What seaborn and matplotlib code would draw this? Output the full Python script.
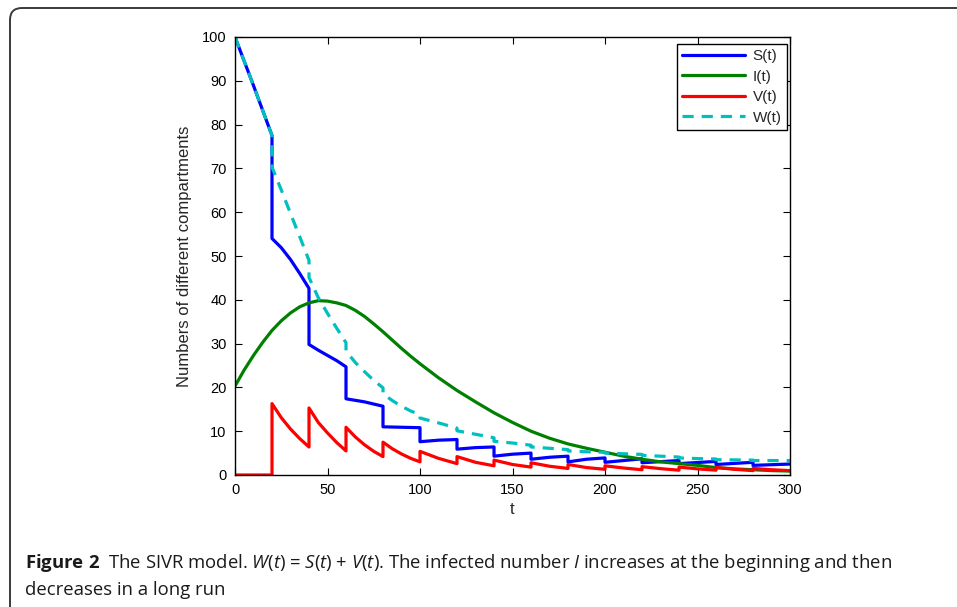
import matplotlib
matplotlib.use("Agg")
import matplotlib.pyplot as plt
import seaborn as sns
from matplotlib.patches import FancyBboxPatch

# S(t): values, repeated t marks a pulse (vertical drop)
s_t = [0, 10, 20, 20, 25, 30, 35, 40, 40, 45, 50, 55, 60, 60, 70, 80, 80, 100,
       100, 110, 120, 120, 130, 140, 140, 150, 160, 160, 170, 180, 180, 190, 200,
       200, 220, 220, 240, 240, 260, 260, 280, 280, 300]
s_vals = [100.0, 88.9, 77.5, 54.0, 51.9, 49.2, 46.0, 42.6, 29.8, 28.5, 27.3, 26.1, 24.7,
          17.4, 16.7, 15.7, 11.0, 10.8, 7.6, 7.95, 8.1, 5.9, 6.25, 6.4, 4.3, 4.75, 5.0,
          3.6, 4.05, 4.3, 3.0, 3.6, 3.9, 2.9, 3.7, 2.8, 3.3, 2.6, 3.1, 2.4, 2.9, 2.2, 2.5]

# I(t)
i_t = [0, 5, 10, 15, 20, 25, 30, 35, 40, 45, 50, 55, 60, 65, 70, 75, 80, 85, 90, 95,
       100, 110, 120, 130, 140, 150, 160, 170, 180, 190, 200, 210, 220, 230, 240, 250,
       260, 270, 280, 290, 300]
i_vals = [20.3, 24.0, 27.3, 30.3, 33.0, 35.2, 37.0, 38.4, 39.3, 39.8, 39.7, 39.3, 38.7,
          37.6, 36.2, 34.5, 32.7, 30.8, 28.9, 27.1, 25.4, 22.2, 19.3, 16.7, 14.2, 12.0,
          10.0, 8.4, 7.1, 6.1, 5.2, 4.3, 3.6, 3.0, 2.6, 2.2, 1.7, 1.4, 1.2, 1.0, 0.9]

# V(t)
v_t = [0, 20, 20, 25, 30, 35, 40, 40, 45, 50, 55, 60, 60, 65, 70, 75, 80, 80, 85, 90,
       95, 100, 100, 110, 120, 120, 130, 140, 140, 150, 160, 160, 170, 180, 180, 190,
       200, 200, 210, 220, 220, 230, 240, 240, 250, 260, 260, 270, 280, 280, 290, 300]
v_vals = [0.0, 0.0, 16.3, 13.1, 10.5, 8.3, 6.4, 15.3, 12.0, 9.6, 7.4, 5.5, 10.9, 8.7,
          6.9, 5.4, 4.2, 7.5, 6.0, 4.8, 3.8, 3.0, 5.4, 3.8, 2.6, 4.2, 2.9, 2.1, 3.4, 2.4,
          1.8, 2.8, 2.0, 1.5, 2.4, 1.7, 1.3, 2.1, 1.6, 1.2, 1.9, 1.45, 1.1, 1.8, 1.4,
          1.1, 1.7, 1.3, 1.0, 1.5, 1.2, 1.0]

# W(t) = S(t) + V(t)
w_t = [0, 10, 20, 20, 25, 30, 35, 40, 40, 45, 50, 55, 60, 60, 65, 70, 75, 80, 80, 85,
       90, 95, 100, 100, 110, 120, 120, 130, 140, 140, 150, 160, 160, 170, 180, 180,
       190, 200, 200, 210, 220, 220, 230, 240, 240, 250, 260, 260, 270, 280, 280, 290,
       300]
w_vals = [100.0, 88.9, 77.5, 70.3, 65.1, 59.7, 54.4, 49.0, 45.1, 40.5, 36.9, 33.5, 30.2,
          28.3, 25.7, 23.6, 21.6, 19.9, 18.5, 17.0, 15.7, 14.6, 13.8, 13.0, 11.9, 10.7,
          10.1, 9.3, 8.5, 7.7, 7.3, 6.8, 6.4, 6.1, 5.8, 5.5, 5.3, 5.2, 5.0, 4.85, 4.7,
          4.5, 4.3, 4.1, 3.9, 3.75, 3.65, 3.5, 3.45, 3.4, 3.3, 3.3, 3.3]

x_ticks = [0, 50, 100, 150, 200, 250, 300]
y_ticks = [0, 10, 20, 30, 40, 50, 60, 70, 80, 90, 100]

sns.set_style("ticks")
plt.rcParams["font.family"] = ["Liberation Sans", "DejaVu Sans"]
plt.rcParams.update({
    "xtick.direction": "in", "ytick.direction": "in",
    "xtick.top": True, "ytick.right": True,
    "xtick.major.size": 5, "ytick.major.size": 5,
    "xtick.color": "black", "ytick.color": "black",
    "axes.edgecolor": "black", "axes.linewidth": 1.0,
    "mathtext.fontset": "custom",
    "mathtext.rm": "Open Sans",
    "mathtext.it": "Open Sans:italic",
    "mathtext.bf": "Open Sans:bold",
})

fig = plt.figure(figsize=(9.57, 6.07), dpi=100)
ax = fig.add_axes([235 / 957, 1 - 475 / 607, 555 / 957, 438 / 607])

series = [
    ("S(t)", s_t, s_vals, "#0000FF", "-"),
    ("I(t)", i_t, i_vals, "#008000", "-"),
    ("V(t)", v_t, v_vals, "#FF0000", "-"),
    ("W(t)", w_t, w_vals, "#00BFBF", (0, (3.5, 2.5))),
]
for name, tt, vv, col, ls in series:
    sns.lineplot(x=tt, y=vv, ax=ax, color=col, linewidth=2.3, linestyle=ls,
                 estimator=None, sort=False, label=name)

ax.set_xlim(0, 300)
ax.set_ylim(0, 100)
ax.set_xticks(x_ticks)
ax.set_yticks(y_ticks)
ax.tick_params(labelsize=10.5, pad=6)
ax.set_xlabel("t", fontsize=12, labelpad=3)
ax.set_ylabel("Numbers of different compartments", fontsize=12, labelpad=7)

leg = ax.legend(loc="upper right", bbox_to_anchor=(0.9946, 0.984), fontsize=11,
                frameon=True, fancybox=False, edgecolor="black", framealpha=1,
                handlelength=4.1, handletextpad=0.5, labelspacing=0.42,
                borderaxespad=0, borderpad=0.35)
leg.get_frame().set_linewidth(1.0)

# rounded frame of the figure panel
frame = FancyBboxPatch((0.10, -0.4), 9.8, 6.39,
                       boxstyle="round,pad=0,rounding_size=0.12",
                       transform=fig.dpi_scale_trans, fill=False,
                       edgecolor="#3a3a3a", linewidth=1.4)
fig.patches.append(frame)

fig.text(25 / 957, 1 - 563 / 607,
         r"$\mathbf{Figure\ 2}$  The SIVR model. $W$($t$) = $S$($t$) + $V$($t$). "
         r"The infected number $I$ increases at the beginning and then",
         fontsize=13.3, family="Open Sans", va="center", ha="left", color="#1a1a1a")
fig.text(25 / 957, 1 - 590 / 607, "decreases in a long run",
         fontsize=13.3, family="Open Sans", va="center", ha="left", color="#1a1a1a")

fig.savefig("out.png", dpi=100)
